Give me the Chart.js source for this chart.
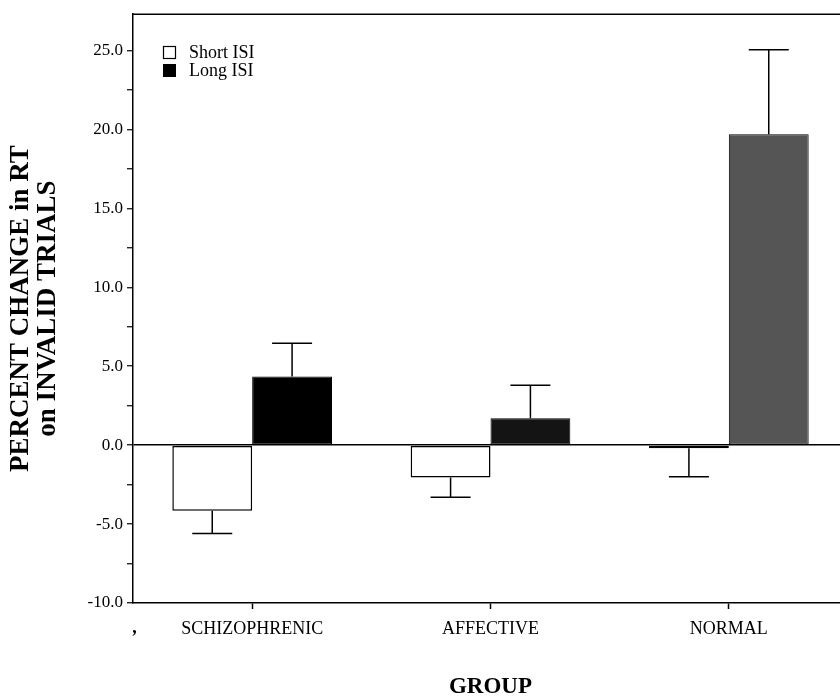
<!DOCTYPE html>
<html>
<head>
<meta charset="utf-8">
<script src="https://cdn.jsdelivr.net/npm/chart.js@4/dist/chart.umd.min.js"></script>
<style>
  html, body { margin: 0; padding: 0; background: #fff; overflow: hidden; }
  #wrap { width: 850px; height: 699px; }
</style>
</head>
<body>
<div id="wrap"><canvas id="chart"></canvas></div>
<script>
var groups = ["SCHIZOPHRENIC", "AFFECTIVE", "NORMAL"];
var shortISI = [-4.15, -2.05, -0.2];
var shortErr = [1.45, 1.25, 1.8];
var longISI = [4.35, 1.7, 19.7];
var longErr = [2.1, 2.1, 5.35];
var longColors = ["#000000", "#141414", "#555555"];
var yTicks = [-10, -7.5, -5, -2.5, 0, 2.5, 5, 7.5, 10, 12.5, 15, 17.5, 20, 22.5, 25];
var errs = [shortErr, longErr];

var serif = "'Liberation Serif', 'Times New Roman', serif";

// error bars, legend, top border and the stray comma
var extras = {
  id: "extras",
  afterDatasetsDraw: function(chart) {
    var ctx = chart.ctx;
    var y = chart.scales.y;
    var area = chart.chartArea;
    ctx.save();
    ctx.strokeStyle = "#000";
    ctx.lineWidth = 1.5;

    chart.data.datasets.forEach(function(ds, di) {
      var meta = chart.getDatasetMeta(di);
      meta.data.forEach(function(bar, i) {
        var v = ds.data[i];
        var e = errs[di][i];
        var end = v >= 0 ? v + e : v - e;
        var y0 = y.getPixelForValue(v);
        var y1 = y.getPixelForValue(end);
        ctx.beginPath();
        ctx.moveTo(bar.x, y0);
        ctx.lineTo(bar.x, y1);
        ctx.moveTo(bar.x - 20, y1);
        ctx.lineTo(bar.x + 20, y1);
        ctx.stroke();
      });
    });

    // top border
    ctx.beginPath();
    ctx.moveTo(area.left, area.top);
    ctx.lineTo(area.right, area.top);
    ctx.stroke();

    // legend
    ctx.font = "18px " + serif;
    ctx.textBaseline = "middle";
    ctx.textAlign = "left";
    ctx.fillStyle = "#000";
    ctx.lineWidth = 1.2;
    ctx.strokeRect(163.5, 46.5, 12, 12);
    ctx.fillText(chart.data.datasets[0].label, 189, 53);
    ctx.fillRect(163, 64, 13, 13);
    ctx.fillText(chart.data.datasets[1].label, 189, 71);

    ctx.font = "italic bold 18px " + serif;
    ctx.fillText(",", 133, 628);
    ctx.restore();
  }
};

new Chart(document.getElementById("chart"), {
  type: "bar",
  data: {
    labels: groups,
    datasets: [
      {
        label: "Short ISI",
        data: shortISI,
        backgroundColor: "#ffffff",
        borderColor: "#000000",
        borderWidth: 1.5,
        borderSkipped: false
      },
      {
        label: "Long ISI",
        data: longISI,
        backgroundColor: longColors,
        borderColor: "#000000",
        borderWidth: 1,
        borderSkipped: false
      }
    ]
  },
  options: {
    responsive: true,
    maintainAspectRatio: false,
    animation: false,
    layout: { padding: { top: 12, right: 2, left: 0, bottom: 0 } },
    datasets: {
      bar: { categoryPercentage: 0.67, barPercentage: 1.0 }
    },
    plugins: {
      legend: { display: false },
      tooltip: { enabled: false }
    },
    scales: {
      x: {
        type: "category",
        offset: true,
        afterFit: function(s) { s.height = 96; },
        grid: {
          display: true,
          offset: false,
          drawOnChartArea: false,
          tickLength: 6,
          tickColor: "#000",
          tickWidth: 1.5
        },
        border: { display: true, color: "#000", width: 1.5 },
        ticks: {
          color: "#000",
          padding: 9,
          maxRotation: 0,
          font: { family: serif, size: 18 }
        },
        title: {
          display: true,
          text: "GROUP",
          color: "#000",
          padding: { top: 0, bottom: 0 },
          font: { family: serif, size: 23, weight: "bold", lineHeight: 1 }
        }
      },
      y: {
        min: -10,
        max: 27.3,
        afterFit: function(s) { s.width = 133; },
        afterBuildTicks: function(s) {
          s.ticks = yTicks.map(function(v) { return { value: v }; });
        },
        grid: {
          display: true,
          drawOnChartArea: true,
          color: function(c) { return c.tick && c.tick.value === 0 ? "#000" : "rgba(0,0,0,0)"; },
          lineWidth: 1.5,
          tickLength: 6,
          tickColor: "#000",
          tickWidth: 1.2
        },
        border: { display: true, color: "#000", width: 1.5 },
        ticks: {
          color: "#000",
          padding: 4,
          font: { family: serif, size: 17 },
          callback: function(v) {
            return v % 5 === 0 ? v.toFixed(1) : "";
          }
        },
        title: {
          display: true,
          text: ["PERCENT CHANGE in RT", "on INVALID TRIALS"],
          color: "#000",
          padding: { top: 8, bottom: 0 },
          font: { family: serif, size: 27, weight: "bold", lineHeight: 1.0 }
        }
      }
    }
  },
  plugins: [extras]
});
</script>
</body>
</html>
